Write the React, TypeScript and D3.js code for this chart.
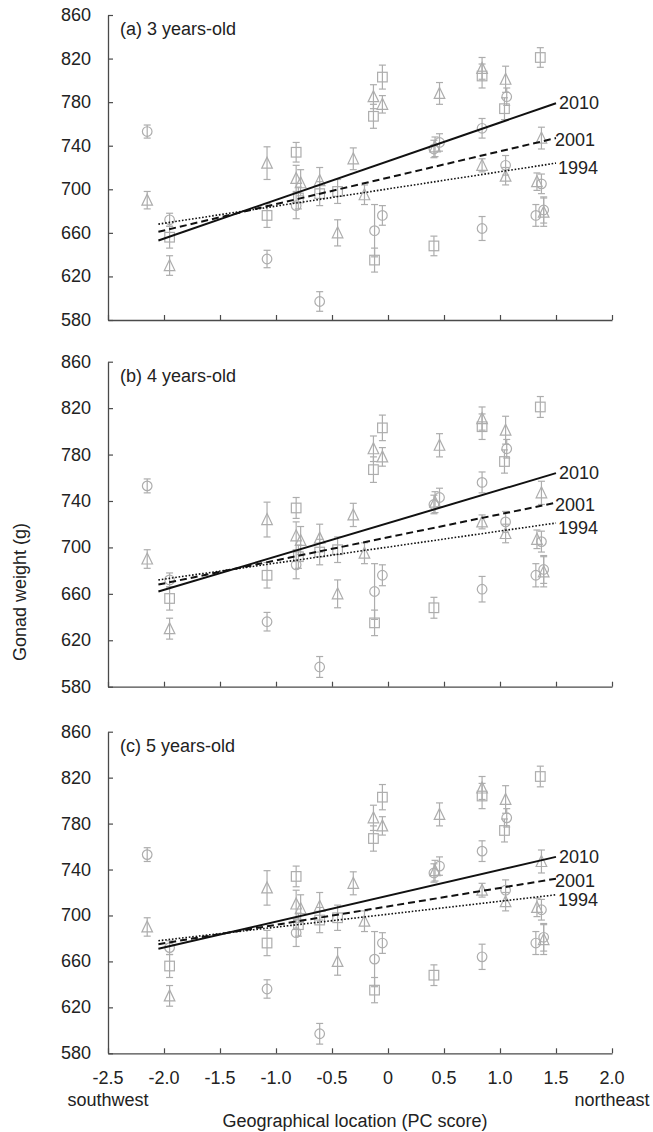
import React, { useEffect, useRef } from 'react';
import * as d3 from 'd3';

const W = 653;
const H = 1132;

const xTickValues = [-2.5, -2, -1.5, -1, -0.5, 0, 0.5, 1, 1.5, 2];
const xTickLabels = ["-2.5", "-2.0", "-1.5", "-1.0", "-0.5", "0", "0.5", "1.0", "1.5", "2.0"];
const yTickValues = [580, 620, 660, 700, 740, 780, 820, 860];

const panelTitles = ["(a) 3 years-old", "(b) 4 years-old", "(c) 5 years-old"];

// [PC score, gonad weight, error]
const circleSites: [number, number, number][] = [
  [-2.15, 753, 6], [-1.95, 672, 6], [-1.08, 636, 8], [-0.82, 685, 12], [-0.61, 597, 9],
  [-0.12, 662, 24], [-0.05, 676, 9], [0.41, 737, 8], [0.46, 743, 8], [0.84, 756, 9],
  [0.84, 664, 11], [1.05, 722, 9], [1.06, 785, 8], [1.37, 705, 9], [1.32, 676, 10], [1.39, 681, 12],
];
const squareSites: [number, number, number][] = [
  [-1.95, 656, 10], [-1.08, 676, 11], [-0.82, 734, 9], [-0.8, 692, 10], [-0.61, 696, 11],
  [-0.45, 698, 11], [-0.13, 767, 11], [-0.12, 635, 11], [-0.05, 803, 11], [0.41, 648, 9],
  [0.84, 804, 11], [1.04, 774, 10], [1.36, 821, 9],
];
const triangleSites: [number, number, number][] = [
  [-2.15, 690, 8], [-1.95, 630, 9], [-1.08, 724, 15], [-0.82, 710, 12], [-0.78, 706, 12],
  [-0.61, 708, 12], [-0.45, 660, 12], [-0.31, 728, 10], [-0.21, 695, 9], [-0.13, 785, 11],
  [-0.05, 778, 8], [0.42, 739, 9], [0.46, 788, 10], [0.84, 811, 10], [0.84, 722, 6],
  [1.05, 801, 12], [1.05, 712, 8], [1.33, 707, 8], [1.37, 747, 10], [1.39, 679, 13],
];

// regression lines: start / end weight, one pair per panel
const trendX = [-2.05, 1.5];
const trendYears = ["2010", "2001", "1994"];
const trend2010 = [[653, 779], [662, 764], [671, 751]];
const trend2001 = [[661, 747], [668, 738.5], [675, 732]];
const trend1994 = [[668, 724], [672, 721], [678, 718]];

export default function App() {
  const svgRef = useRef<SVGSVGElement>(null);

  useEffect(() => {
    if (!svgRef.current) return;
    const svg = d3.select(svgRef.current);
    svg.selectAll("*").remove();

    const font = "'Liberation Sans', Arial, sans-serif";
    const fs = "18px";
    const markColor = "#adadad";
    const axisColor = "#4a4a4a";
    const left = 108, right = 612;
    const panels = [
      { top: 15, bottom: 320 },
      { top: 361.7, bottom: 686.7 },
      { top: 731.7, bottom: 1053.3 },
    ];

    const x = d3.scaleLinear().domain([-2.5, 2]).range([left, right]);
    const trends = [trend2010, trend2001, trend1994];
    const dashes = [null, "7,4", "1.6,1.8"];
    const widths = [2, 2, 1.6];
    const labelOffset = [[3, 0], [-1, 2], [2, 5]];

    panels.forEach((p, pi) => {
      const y = d3.scaleLinear().domain([580, 860]).range([p.bottom, p.top]);
      const g = svg.append("g");

      // y axis, ticks pointing inward
      const yAxis = g.append("g").attr("transform", `translate(${left},0)`)
        .call(d3.axisRight(y).tickValues(yTickValues).tickSize(5).tickSizeOuter(0).tickFormat(() => ""));
      yAxis.select(".domain").attr("stroke", axisColor).attr("stroke-width", 1.3);
      yAxis.selectAll(".tick line").attr("stroke", axisColor).attr("stroke-width", 1.2);
      yTickValues.forEach(v => {
        g.append("text").attr("x", left - 17).attr("y", y(v)).attr("text-anchor", "end")
          .attr("dominant-baseline", "central").attr("fill", "#222").style("font-family", font)
          .style("font-size", fs).text(String(v));
      });

      const xAxis = g.append("g").attr("transform", `translate(0,${p.bottom})`)
        .call(d3.axisTop(x).tickValues(xTickValues).tickSize(5).tickSizeOuter(0).tickFormat(() => ""));
      xAxis.select(".domain").attr("stroke", axisColor).attr("stroke-width", 1.3);
      xAxis.selectAll(".tick line").attr("stroke", axisColor).attr("stroke-width", 1.2);

      g.append("text").attr("x", left + 12).attr("y", p.top + 14).attr("dominant-baseline", "central")
        .attr("fill", "#222").style("font-family", font).style("font-size", fs).text(panelTitles[pi]);

      // error bars and markers
      const marks = g.append("g").attr("fill", "none").attr("stroke", markColor).attr("stroke-width", 1.2);
      const drawBar = (d: [number, number, number]) => {
        const cx = x(d[0]);
        const y1 = y(d[1] - d[2]), y2 = y(d[1] + d[2]);
        marks.append("line").attr("x1", cx).attr("x2", cx).attr("y1", y1).attr("y2", y2);
        marks.append("line").attr("x1", cx - 3.5).attr("x2", cx + 3.5).attr("y1", y1).attr("y2", y1);
        marks.append("line").attr("x1", cx - 3.5).attr("x2", cx + 3.5).attr("y1", y2).attr("y2", y2);
      };
      circleSites.forEach(d => {
        drawBar(d);
        marks.append("circle").attr("cx", x(d[0])).attr("cy", y(d[1])).attr("r", 4.8);
      });
      squareSites.forEach(d => {
        drawBar(d);
        marks.append("rect").attr("x", x(d[0]) - 4.8).attr("y", y(d[1]) - 4.8).attr("width", 9.6).attr("height", 9.6);
      });
      triangleSites.forEach(d => {
        drawBar(d);
        const cx = x(d[0]), cy = y(d[1]);
        marks.append("path").attr("d", `M${cx},${cy - 6}L${cx + 5.3},${cy + 5}L${cx - 5.3},${cy + 5}Z`);
      });

      // regression lines
      trends.forEach((t, ti) => {
        const pts: [number, number][] = [[trendX[0], t[pi][0]], [trendX[1], t[pi][1]]];
        const path = g.append("path").datum(pts)
          .attr("d", d3.line<[number, number]>().x(d => x(d[0])).y(d => y(d[1])))
          .attr("fill", "none").attr("stroke", "#111").attr("stroke-width", widths[ti]);
        if (dashes[ti]) path.attr("stroke-dasharray", dashes[ti] as string);
        g.append("text").attr("x", x(trendX[1]) + labelOffset[ti][0]).attr("y", y(t[pi][1]) + labelOffset[ti][1])
          .attr("dominant-baseline", "central").attr("fill", "#222").style("font-family", font)
          .style("font-size", fs).text(trendYears[ti]);
      });

      if (pi === 2) {
        xTickValues.forEach((v, i) => {
          g.append("text").attr("x", x(v)).attr("y", p.bottom + 25).attr("text-anchor", "middle")
            .attr("dominant-baseline", "central").attr("fill", "#222").style("font-family", font)
            .style("font-size", fs).text(xTickLabels[i]);
        });
        g.append("text").attr("x", x(-2.5)).attr("y", p.bottom + 47).attr("text-anchor", "middle")
          .attr("dominant-baseline", "central").attr("fill", "#222").style("font-family", font)
          .style("font-size", fs).text("southwest");
        g.append("text").attr("x", x(2)).attr("y", p.bottom + 47).attr("text-anchor", "middle")
          .attr("dominant-baseline", "central").attr("fill", "#222").style("font-family", font)
          .style("font-size", fs).text("northeast");
        g.append("text").attr("x", (left + right) / 2 - 5).attr("y", p.bottom + 68).attr("text-anchor", "middle")
          .attr("dominant-baseline", "central").attr("fill", "#222").style("font-family", font)
          .style("font-size", fs).text("Geographical location (PC score)");
      }
    });

    svg.append("text").attr("transform", `translate(20,592) rotate(-90)`).attr("text-anchor", "middle")
      .attr("dominant-baseline", "central").attr("fill", "#222").style("font-family", font)
      .style("font-size", fs).text("Gonad weight (g)");
  }, []);

  return (
    <svg ref={svgRef} width={W} height={H} viewBox={`0 0 ${W} ${H}`}
      style={{ position: 'absolute', left: 0, top: 0, background: '#fff' }} />
  );
}
